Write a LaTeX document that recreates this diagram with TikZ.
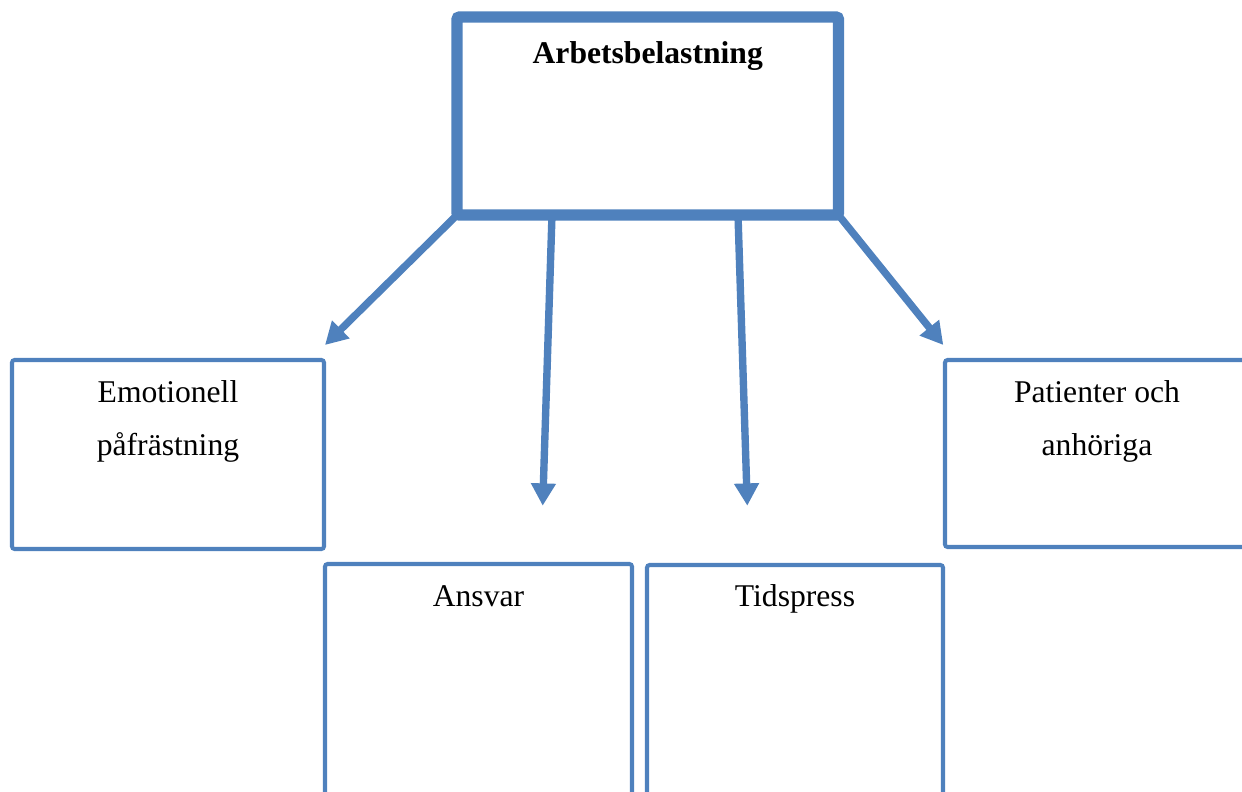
\documentclass[tikz,border=0pt]{standalone}
\usepackage{fontspec}
\setmainfont{Liberation Serif}
\usepackage{tikz}
\usetikzlibrary{arrows.meta, positioning}
\definecolor{boxblue}{RGB}{79,129,189}

\begin{document}
\begin{tikzpicture}[
    box/.style={draw=boxblue, line width=2.3pt, rounded corners=1.5pt, outer sep=0pt, inner sep=0pt},
    txt/.style={font=\fontsize{18}{30}\selectfont, align=center, inner sep=0pt, anchor=base},
    pil/.style={draw=boxblue, line width=4.2pt, -{Triangle[length=12.7pt, width=13.5pt]}}
]
    \useasboundingbox (0,0) rectangle (24.84,-15.84);
    \clip (0,0) rectangle (24.84,-15.84);

    % Top box
    \node[box, line width=6.5pt, minimum width=7.63cm, minimum height=3.96cm] (top) at (12.955,-2.32) {};
    \node[txt, font=\fontsize{18}{30}\selectfont\bfseries] (toptxt) at ([yshift=-0.92cm]top.north) {Arbetsbelastning};

    % Lower boxes (base = last line, so two-line texts go one line lower)
    \node[box, minimum width=6.24cm, minimum height=3.78cm] (emo) at (3.36,-9.09) {};
    \node[txt] (emotxt) at ([yshift=-1.9cm]emo.north) {Emotionell\\påfrästning};

    \node[box, minimum width=6.14cm, minimum height=6.72cm] (ansvar) at (9.57,-14.64) {};
    \node[txt] (ansvartxt) at ([yshift=-0.84cm]ansvar.north) {Ansvar};

    \node[box, minimum width=5.92cm, minimum height=6.72cm] (tid) at (15.9,-14.66) {};
    \node[txt] (tidtxt) at ([yshift=-0.82cm]tid.north) {Tidspress};

    \node[box, minimum width=6.08cm, minimum height=3.74cm] (pat) at (21.94,-9.07) {};
    \node[txt] (pattxt) at ([yshift=-1.9cm]pat.north) {Patienter och\\anhöriga};

    % Arrow tips
    \coordinate (t1) at (6.5,-6.9);
    \coordinate (t2) at (10.854,-10.114);
    \coordinate (t3) at (14.946,-10.114);
    \coordinate (t4) at (18.866,-6.9);

    % Arrows
    \draw[pil] (top.south west) -- (t1);
    \draw[pil] ([xshift=1.9cm]top.south west) -- (t2);
    \draw[pil] ([xshift=5.62cm]top.south west) -- (t3);
    \draw[pil] (top.south east) -- (t4);
\end{tikzpicture}
\end{document}
